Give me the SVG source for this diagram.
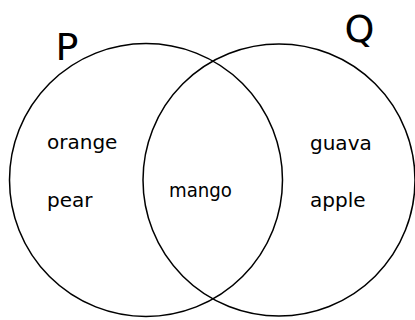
<svg xmlns="http://www.w3.org/2000/svg" width="415" height="320" viewBox="0 0 415 320">
<style>
.c{fill:none;stroke:#000;stroke-width:1.5}
.t{font-family:"DejaVu Sans",sans-serif;font-size:20px;fill:#000}
.h{font-family:"DejaVu Sans",sans-serif;font-size:38px;fill:#000}
</style>
<rect width="415" height="320" fill="#fff"/>
<g id="connectors"/>
<g id="setP">
<circle class="c" cx="146" cy="180" r="136.5"/>
<text class="h" x="55.5" y="59.5">P</text>
</g>
<g id="setQ">
<circle class="c" cx="279" cy="180" r="136"/>
<text class="h" x="344.5" y="41.5">Q</text>
</g>
<g id="orange"><text class="t" x="47" y="149">orange</text></g>
<g id="pear"><text class="t" x="47" y="207">pear</text></g>
<g id="mango"><text class="t" x="169" y="197" textLength="63" lengthAdjust="spacingAndGlyphs">mango</text></g>
<g id="guava"><text class="t" x="310" y="150">guava</text></g>
<g id="apple"><text class="t" x="310" y="207">apple</text></g>
</svg>
